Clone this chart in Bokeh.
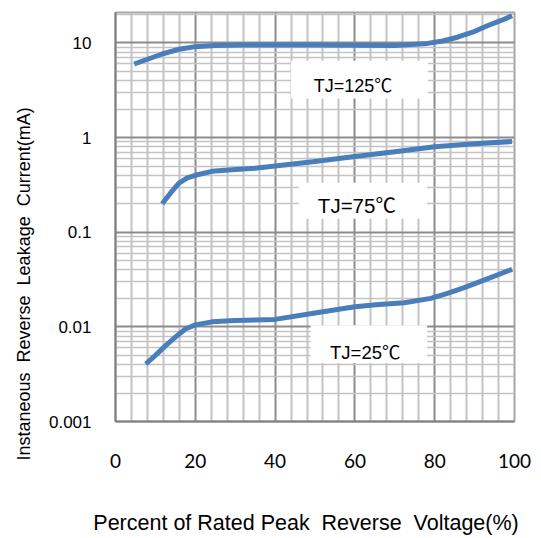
import math
from bokeh.plotting import figure
from bokeh.models import Range1d, FixedTicker, CustomJSTickFormatter, Title
from bokeh.core.properties import value
from bokeh.embed import file_html
from bokeh.resources import INLINE

# ---- data ----
x_125 = [4.7, 11.7, 16.0, 20.0, 25.0, 32.5, 49.0, 60.0, 70.0, 78.2, 82.0, 85.7, 89.5, 93.2, 96.5, 99.4]
y_125 = [6.0, 7.65, 8.6, 9.15, 9.4, 9.5, 9.5, 9.45, 9.4, 9.9, 10.5, 11.5, 13.0, 15.2, 17.2, 19.4]

x_75 = [11.7, 13.8, 15.9, 18.0, 20.0, 24.2, 30.0, 35.0, 40.0, 50.0, 60.0, 70.0, 80.0, 90.0, 99.4]
y_75 = [0.20, 0.26, 0.33, 0.375, 0.40, 0.44, 0.46, 0.475, 0.50, 0.56, 0.63, 0.71, 0.80, 0.86, 0.91]

x_25 = [7.6, 10.0, 12.5, 15.0, 17.5, 20.0, 24.2, 30.0, 40.0, 50.0, 60.0, 66.0, 72.4, 79.0, 83.0, 87.4, 93.0, 99.4]
y_25 = [0.00405, 0.0050, 0.0063, 0.0078, 0.0095, 0.0105, 0.0113, 0.0117, 0.0120, 0.0140, 0.0163, 0.0172, 0.0180, 0.0200, 0.0225, 0.0260, 0.0320, 0.0405]

series_labels = ["TJ=125\u2103", "TJ=75\u2103", "TJ=25\u2103"]

x_ticks = [0, 20, 40, 60, 80, 100]
x_tick_labels = ["0", "20", "40", "60", "80", "100"]
y_ticks = [0.001, 0.01, 0.1, 1, 10]
y_tick_labels = ["0.001", "0.01", "0.1", "1", "10"]

x_title = "Percent of Rated Peak\u00a0 Reverse\u00a0 Voltage(%)\u00a0\u00a0\u00a0"
y_title = "Instaneous\u00a0 Reverse\u00a0 Leakage\u00a0 Current(mA)"

# ---- figure ----
BLUE = "#4a7ebb"
FONT = "Liberation Sans, Arial, Noto Sans CJK SC, sans-serif"

p = figure(width=541, height=537, output_backend="svg", toolbar_location=None,
           x_range=Range1d(0, 100), y_range=Range1d(0.001, 21), y_axis_type="log",
           min_border_left=113, min_border_right=27, min_border_top=12, min_border_bottom=114)
p.background_fill_color = "white"
p.border_fill_color = "white"
p.outline_line_color = "#a6a6a6"
p.outline_line_width = 2

x_minor = [v for v in range(0, 101, 4) if v % 20 != 0]
y_minor = [m * 10.0 ** e for e in range(-3, 2) for m in range(2, 10) if m * 10.0 ** e < 21]

p.xaxis.ticker = FixedTicker(ticks=x_ticks, minor_ticks=x_minor)
p.yaxis.ticker = FixedTicker(ticks=y_ticks, minor_ticks=y_minor)
p.xaxis.formatter = CustomJSTickFormatter(args=dict(vals=x_ticks, labels=x_tick_labels), code="""
    let best = 0;
    for (let i = 0; i < vals.length; i++) { if (Math.abs(vals[i] - tick) < Math.abs(vals[best] - tick)) best = i; }
    return labels[best];
""")
p.yaxis.formatter = CustomJSTickFormatter(args=dict(vals=y_ticks, labels=y_tick_labels), code="""
    let best = 0;
    for (let i = 0; i < vals.length; i++) {
        if (Math.abs(Math.log10(vals[i]) - Math.log10(tick)) < Math.abs(Math.log10(vals[best]) - Math.log10(tick))) best = i;
    }
    return labels[best];
""")

for ax in (p.xaxis, p.yaxis):
    ax.major_tick_line_color = None
    ax.minor_tick_line_color = None
    ax.axis_line_color = "#808080"
    ax.axis_line_width = 2
    ax.major_label_text_color = "black"
    ax.major_label_text_font = FONT

p.yaxis.major_label_text_font_size = "17px"
p.yaxis.major_label_standoff = 18
p.xaxis.major_label_text_font_size = "19px"
p.xaxis.major_label_text_font = "Lato, Liberation Sans, sans-serif"
p.xaxis.major_label_standoff = 26

p.xaxis.axis_label = x_title
p.xaxis.axis_label_standoff = 40
p.xaxis.axis_label_text_font = FONT
p.xaxis.axis_label_text_font_size = "21.5px"
p.xaxis.axis_label_text_font_style = "normal"
p.xaxis.axis_label_text_color = "black"

p.add_layout(Title(text=y_title, align="left", offset=-39, standoff=23, text_font=FONT,
                   text_font_size="18px", text_font_style="normal", text_color="black"), "left")

p.xgrid.grid_line_color = "#8c8c8c"
p.xgrid.grid_line_width = 2
p.ygrid.grid_line_color = "#8c8c8c"
p.ygrid.grid_line_width = 2
p.xgrid.minor_grid_line_color = "#c3c3c3"
p.xgrid.minor_grid_line_width = 2
p.ygrid.minor_grid_line_color = "#c3c3c3"
p.ygrid.minor_grid_line_width = 1.5

# white label boxes (annotation layout)
p.quad(left=[44.0, 45.9, 48.9], right=[78.3, 78.1, 78.1],
       bottom=[2.59, 0.139, 0.00414], top=[6.5, 0.333, 0.01042],
       fill_color="white", line_color=None)

for xs, ys in ((x_125, y_125), (x_75, y_75), (x_25, y_25)):
    p.line(xs, ys, line_color=BLUE, line_width=5, line_join="round")

p.text(x=[59.5, 60.5, 62.6], y=[3.55, 0.19, 0.0054], text=series_labels,
       text_font=value(FONT), text_font_size=["18px", "20.5px", "18.5px"],
       text_align="center", text_baseline="middle", text_color="black")

open("out.html", "w").write(file_html(p, INLINE))
